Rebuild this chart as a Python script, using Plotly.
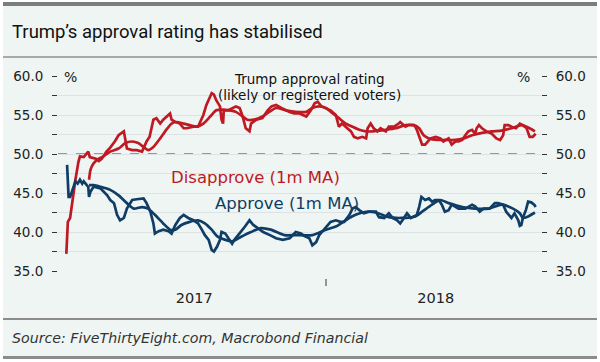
import plotly.graph_objects as go

# ---------------- data ----------------
disapprove_dates = [
    "2017-01-23", "2017-01-25", "2017-01-28", "2017-01-31", "2017-02-04", "2017-02-08", "2017-02-10",
    "2017-02-15", "2017-02-21", "2017-02-23", "2017-03-03", "2017-03-07", "2017-03-11", "2017-03-17",
    "2017-03-21", "2017-03-28", "2017-04-02", "2017-04-09", "2017-04-11", "2017-04-13", "2017-04-20",
    "2017-04-26", "2017-05-03", "2017-05-09", "2017-05-13", "2017-05-18", "2017-05-22", "2017-05-27",
    "2017-05-31", "2017-06-07", "2017-06-09", "2017-06-11", "2017-06-16", "2017-06-22", "2017-06-27",
    "2017-07-01", "2017-07-10", "2017-07-16", "2017-07-19", "2017-07-23", "2017-07-27", "2017-08-01",
    "2017-08-03", "2017-08-06", "2017-08-09", "2017-08-14", "2017-08-16", "2017-08-18", "2017-08-19",
    "2017-08-25", "2017-09-04", "2017-09-09", "2017-09-13", "2017-09-17", "2017-09-22", "2017-09-24",
    "2017-10-01", "2017-10-09", "2017-10-16", "2017-10-21", "2017-10-27", "2017-11-03", "2017-11-09",
    "2017-11-14", "2017-11-20", "2017-11-27", "2017-12-06", "2017-12-12", "2017-12-17", "2017-12-21",
    "2017-12-26", "2017-12-30", "2018-01-07", "2018-01-14", "2018-01-18", "2018-01-22", "2018-01-29",
    "2018-02-03", "2018-02-07", "2018-02-12", "2018-02-18", "2018-02-23", "2018-02-25", "2018-03-01",
    "2018-03-05", "2018-03-10", "2018-03-14", "2018-03-21", "2018-03-25", "2018-04-01", "2018-04-07",
    "2018-04-09", "2018-04-16", "2018-04-20", "2018-04-27", "2018-04-29", "2018-05-01", "2018-05-04",
    "2018-05-08", "2018-05-12", "2018-05-15", "2018-05-19", "2018-05-26", "2018-06-01", "2018-06-05",
    "2018-06-12", "2018-06-16", "2018-06-21", "2018-06-25", "2018-06-30", "2018-07-04", "2018-07-08",
    "2018-07-13", "2018-07-17", "2018-07-19", "2018-07-22", "2018-07-26", "2018-08-01", "2018-08-08",
    "2018-08-14", "2018-08-19", "2018-08-23", "2018-08-25", "2018-08-30", "2018-09-03", "2018-09-09",
    "2018-09-14", "2018-09-18", "2018-09-23", "2018-09-25", "2018-09-27", "2018-10-01", "2018-10-05",
]
disapprove = [
    37.2, 41.3, 41.8, 44.2, 46.7, 49.0, 49.7,
    49.6, 50.3, 49.6, 49.4, 49.1, 49.4, 50.3,
    50.7, 51.6, 52.4, 52.9, 52.0, 50.7, 50.5,
    50.5, 50.3, 51.6, 52.2, 54.4, 54.6, 53.9,
    54.4, 55.0, 55.2, 54.4, 54.1, 53.9, 53.3,
    53.3, 53.5, 53.5, 54.1, 55.0, 56.3, 57.3,
    57.8, 57.6, 56.9, 56.1, 54.4, 53.9, 55.6,
    55.6, 56.1, 55.9, 54.8, 53.3, 52.9, 53.9,
    54.4, 54.6, 55.6, 56.1, 56.3, 55.9, 55.6,
    55.4, 55.2, 55.2, 54.8, 55.6, 56.5, 56.7,
    56.1, 55.9, 55.6, 55.0, 53.5, 53.9, 53.3,
    52.9, 52.2, 52.0, 52.2, 52.0, 53.3, 53.9,
    53.3, 52.9, 53.3, 52.9, 53.5, 53.5, 53.9,
    54.1, 53.5, 53.7, 53.7, 53.5, 53.1, 52.2,
    51.2, 51.2, 51.6, 52.0, 52.2, 52.0, 51.6,
    52.0, 51.2, 51.6, 51.6, 51.8, 52.4, 52.9,
    53.1, 52.6, 53.3, 53.7, 53.3, 52.9, 52.6,
    52.0, 51.8, 52.4, 53.7, 53.7, 53.5, 53.3,
    53.9, 53.7, 53.3, 52.6, 52.2, 52.2, 52.6,
]

disapprove_ma_dates = [
    "2017-02-22", "2017-02-24", "2017-02-28", "2017-03-07", "2017-03-13", "2017-03-22", "2017-04-02",
    "2017-04-11", "2017-04-20", "2017-04-28", "2017-05-05", "2017-05-11", "2017-05-18", "2017-05-27",
    "2017-06-04", "2017-06-11", "2017-06-18", "2017-06-27", "2017-07-05", "2017-07-14", "2017-07-23",
    "2017-08-01", "2017-08-09", "2017-08-18", "2017-08-27", "2017-09-04", "2017-09-13", "2017-09-19",
    "2017-09-28", "2017-10-09", "2017-10-18", "2017-10-27", "2017-11-09", "2017-11-22", "2017-12-06",
    "2017-12-14", "2017-12-23", "2018-01-01", "2018-01-10", "2018-01-18", "2018-01-27", "2018-02-05",
    "2018-02-14", "2018-02-23", "2018-03-04", "2018-03-12", "2018-03-21", "2018-04-03", "2018-04-16",
    "2018-04-27", "2018-05-04", "2018-05-10", "2018-05-17", "2018-05-28", "2018-06-07", "2018-06-21",
    "2018-07-02", "2018-07-13", "2018-07-26", "2018-08-08", "2018-08-21", "2018-09-03", "2018-09-16",
    "2018-09-27", "2018-10-04",
]
disapprove_ma = [
    46.7, 48.0, 48.8, 49.4, 49.7, 50.3, 50.7,
    51.4, 51.6, 51.4, 50.9, 50.5, 50.9, 52.0,
    53.1, 53.9, 54.1, 53.9, 53.7, 53.5, 53.9,
    54.8, 55.6, 55.7, 55.6, 55.4, 54.8, 54.4,
    54.4, 54.8, 55.4, 55.9, 55.6, 55.4, 55.4,
    55.9, 56.1, 55.9, 55.2, 54.6, 53.9, 53.5,
    53.1, 52.9, 52.9, 53.0, 53.1, 53.3, 53.7,
    53.7, 53.3, 52.4, 52.0, 51.8, 51.8, 51.8,
    52.0, 52.4, 52.7, 52.9, 53.0, 53.3, 53.7,
    53.3, 52.9,
]

approve_dates = [
    "2017-01-24", "2017-01-25", "2017-01-26", "2017-01-28", "2017-01-31", "2017-02-02", "2017-02-04",
    "2017-02-07", "2017-02-10", "2017-02-13", "2017-02-15", "2017-02-19", "2017-02-21", "2017-02-22",
    "2017-02-24", "2017-02-28", "2017-03-09", "2017-03-18", "2017-03-22", "2017-03-27", "2017-03-31",
    "2017-04-04", "2017-04-09", "2017-04-13", "2017-04-20", "2017-04-26", "2017-05-05", "2017-05-09",
    "2017-05-14", "2017-05-18", "2017-05-20", "2017-05-25", "2017-05-31", "2017-06-07", "2017-06-11",
    "2017-06-16", "2017-06-22", "2017-06-27", "2017-07-03", "2017-07-10", "2017-07-16", "2017-07-21",
    "2017-07-25", "2017-07-30", "2017-08-03", "2017-08-06", "2017-08-10", "2017-08-14", "2017-08-16",
    "2017-08-21", "2017-08-30", "2017-09-02", "2017-09-11", "2017-09-16", "2017-09-22", "2017-09-27",
    "2017-10-03", "2017-10-10", "2017-10-19", "2017-10-27", "2017-11-05", "2017-11-14", "2017-11-22",
    "2017-11-29", "2017-12-03", "2017-12-10", "2017-12-14", "2017-12-19", "2017-12-23", "2018-01-01",
    "2018-01-07", "2018-01-14", "2018-01-20", "2018-01-25", "2018-02-01", "2018-02-05", "2018-02-09",
    "2018-02-14", "2018-02-20", "2018-02-27", "2018-03-08", "2018-03-12", "2018-03-19", "2018-03-25",
    "2018-03-30", "2018-04-05", "2018-04-09", "2018-04-14", "2018-04-18", "2018-04-23", "2018-04-27",
    "2018-05-01", "2018-05-04", "2018-05-07", "2018-05-12", "2018-05-17", "2018-05-21", "2018-05-25",
    "2018-05-30", "2018-06-03", "2018-06-07", "2018-06-12", "2018-06-16", "2018-06-25", "2018-07-04",
    "2018-07-13", "2018-07-17", "2018-07-23", "2018-07-28", "2018-08-05", "2018-08-12", "2018-08-16",
    "2018-08-23", "2018-08-27", "2018-09-03", "2018-09-07", "2018-09-12", "2018-09-14", "2018-09-16",
    "2018-09-18", "2018-09-22", "2018-09-25", "2018-09-29", "2018-10-03", "2018-10-05",
]
approve = [
    48.6, 46.2, 44.5, 44.5, 45.4, 46.2, 46.5,
    46.2, 46.7, 46.2, 46.5, 46.0, 45.8, 44.5,
    45.2, 45.8, 45.6, 44.7, 44.1, 43.7, 42.2,
    41.5, 41.8, 43.0, 44.1, 44.2, 44.3, 43.7,
    42.6, 41.1, 39.8, 40.1, 40.3, 40.1, 39.8,
    40.9, 41.8, 42.2, 41.8, 41.5, 41.1, 40.3,
    39.6, 39.0, 37.7, 37.5, 38.1, 39.0, 40.0,
    39.8, 38.5, 39.0, 40.0, 40.7, 41.5, 40.9,
    40.5, 40.0, 39.6, 39.2, 39.0, 39.2, 40.0,
    39.8, 39.5, 39.2, 38.3, 38.7, 39.6, 40.7,
    41.3, 41.5, 41.3, 41.3, 42.2, 43.0, 43.2,
    42.8, 42.4, 42.6, 42.6, 41.9, 41.8, 42.4,
    41.8, 41.5, 41.1, 41.8, 42.4, 41.8, 42.0,
    42.2, 43.2, 44.5, 44.1, 44.3, 43.9, 44.1,
    44.1, 43.5, 42.6, 42.8, 43.5, 43.0, 43.0,
    43.5, 43.3, 42.6, 43.0, 43.0, 43.7, 43.7,
    43.5, 42.6, 41.8, 42.4, 41.5, 40.8, 40.9,
    41.8, 42.8, 43.9, 43.8, 43.5, 43.2,
]

approve_ma_dates = [
    "2017-02-22", "2017-02-28", "2017-03-09", "2017-03-22", "2017-04-02", "2017-04-13", "2017-04-22",
    "2017-05-03", "2017-05-11", "2017-05-20", "2017-05-31", "2017-06-09", "2017-06-16", "2017-06-24",
    "2017-07-05", "2017-07-16", "2017-07-25", "2017-08-03", "2017-08-11", "2017-08-30", "2017-09-11",
    "2017-09-24", "2017-10-07", "2017-10-20", "2017-11-07", "2017-11-22", "2017-12-14", "2018-01-01",
    "2018-01-14", "2018-01-27", "2018-02-09", "2018-02-23", "2018-03-08", "2018-03-25", "2018-04-11",
    "2018-04-29", "2018-05-08", "2018-05-21", "2018-06-01", "2018-06-12", "2018-06-30", "2018-07-17",
    "2018-08-04", "2018-08-21", "2018-09-05", "2018-09-14", "2018-09-18", "2018-09-25", "2018-10-04",
]
approve_ma = [
    46.0, 46.0, 45.8, 45.4, 44.7, 43.7, 43.0,
    43.2, 43.0, 42.2, 41.1, 40.3, 40.3, 40.9,
    41.3, 41.5, 41.1, 40.3, 39.4, 38.8, 39.4,
    40.0, 40.5, 40.3, 39.6, 39.6, 39.6, 40.3,
    40.7, 41.5, 42.2, 42.6, 42.5, 41.9, 41.8,
    42.0, 42.6, 43.5, 44.1, 43.7, 43.2, 43.0,
    43.0, 43.5, 43.0, 42.4, 41.8, 42.0, 42.5,
]

y_ticks = [35, 40, 45, 50, 55, 60]
y_ticktext = ["35.0", "40.0", "45.0", "50.0", "55.0", "60.0"]
year_label_dates = ["2017-07-11", "2018-05-26"]
year_labels = ["2017", "2018"]
year_boundary = "2018-01-01"

# ---------------- styling ----------------
RED = "#bf1a24"
BLUE = "#0f3d66"
BG = "#eef5f3"
GRID = "#dde3e5"
FONT = "DejaVu Sans"
W, H = 600, 362
L, R, T, B = 58, 59, 76, 91
PW, PH = W - L - R, H - T - B


def px(xpix):
    return (xpix - L) / PW


def py(ypix):
    return (H - B - ypix) / PH


fig = go.Figure()
fig.add_trace(go.Scatter(x=disapprove_dates, y=disapprove, mode="lines",
                         line=dict(color=RED, width=2.7), yaxis="y2", hoverinfo="skip"))
fig.add_trace(go.Scatter(x=disapprove_ma_dates, y=disapprove_ma, mode="lines",
                         line=dict(color=RED, width=2.7, shape="spline", smoothing=0.6), hoverinfo="skip"))
fig.add_trace(go.Scatter(x=approve_dates, y=approve, mode="lines",
                         line=dict(color=BLUE, width=2.7), yaxis="y2", hoverinfo="skip"))
fig.add_trace(go.Scatter(x=approve_ma_dates, y=approve_ma, mode="lines",
                         line=dict(color=BLUE, width=2.7, shape="spline", smoothing=0.6), hoverinfo="skip"))

yax = dict(range=[35, 60], tickvals=y_ticks, ticktext=y_ticktext,
           ticks="outside", ticklen=5, tickwidth=1, tickcolor="#333",
           minor=dict(dtick=2.5, ticks="outside", ticklen=5, tickwidth=1, tickcolor="#333",
                      showgrid=True, gridcolor=GRID, gridwidth=1),
           showgrid=True, gridcolor=GRID, gridwidth=1, zeroline=False, showline=False,
           tickfont=dict(family=FONT, size=13.5, color="#222"), ticklabelstandoff=6,
           fixedrange=True)

fig.update_layout(
    width=W, height=H, margin=dict(l=L, r=R, t=T, b=B),
    paper_bgcolor=BG, plot_bgcolor=BG, showlegend=False,
    xaxis=dict(type="date", range=["2017-01-12", "2018-10-12"], tickvals=year_label_dates,
               ticktext=year_labels, ticks="", showgrid=False, zeroline=False, showline=False,
               tickfont=dict(family=FONT, size=14.5, color="#222"), ticklabelstandoff=16,
               fixedrange=True),
    yaxis=yax,
    yaxis2=dict(yax, overlaying="y", side="right", showgrid=False,
                minor=dict(dtick=2.5, ticks="outside", ticklen=5, tickwidth=1, tickcolor="#333",
                           showgrid=False)),
)

shapes = [
    dict(type="line", xref="paper", yref="y", x0=0, x1=1, y0=50, y1=50,
         line=dict(color="#7a7a7a", width=1.5, dash="dash"), layer="below"),
    dict(type="line", xref="x", yref="paper", x0=year_boundary, x1=year_boundary,
         y0=py(279), y1=py(286), line=dict(color="#333", width=1)),
    dict(type="rect", xref="paper", yref="paper", x0=px(0), x1=px(600), y0=py(0), y1=py(2),
         fillcolor="white", line=dict(width=0)),
    dict(type="rect", xref="paper", yref="paper", x0=px(0), x1=px(3), y0=py(0), y1=py(362),
         fillcolor="white", line=dict(width=0)),
    dict(type="rect", xref="paper", yref="paper", x0=px(597), x1=px(600), y0=py(0), y1=py(362),
         fillcolor="white", line=dict(width=0)),
    dict(type="rect", xref="paper", yref="paper", x0=px(3), x1=px(597), y0=py(2), y1=py(6),
         fillcolor="#7d7d7d", line=dict(width=0)),
    dict(type="rect", xref="paper", yref="paper", x0=px(3), x1=px(597), y0=py(56), y1=py(58),
         fillcolor="#a9a9a9", line=dict(width=0)),
    dict(type="rect", xref="paper", yref="paper", x0=px(3), x1=px(597), y0=py(318), y1=py(320),
         fillcolor="#8c8c8c", line=dict(width=0)),
    dict(type="rect", xref="paper", yref="paper", x0=px(3), x1=px(597), y0=py(356), y1=py(359),
         fillcolor="#8c8c8c", line=dict(width=0)),
    dict(type="rect", xref="paper", yref="paper", x0=px(0), x1=px(600), y0=py(359), y1=py(362),
         fillcolor="white", line=dict(width=0)),
]
fig.update_layout(shapes=shapes)

ann = [
    dict(text="Trump’s approval rating has stabilised", x=px(10), y=py(32), xanchor="left",
         yanchor="middle", font=dict(family="Roboto", size=18.5, color="#111")),
    dict(text="<i>Source: FiveThirtyEight.com, Macrobond Financial</i>", x=px(10), y=py(338),
         xanchor="left", yanchor="middle", font=dict(family=FONT, size=14.2, color="#333")),
    dict(text="%", x=px(62), y=py(77), xanchor="left", yanchor="middle",
         font=dict(family=FONT, size=14, color="#222")),
    dict(text="%", x=px(532), y=py(77), xanchor="right", yanchor="middle",
         font=dict(family=FONT, size=14, color="#222")),
    dict(text="Trump approval rating", x=px(309), y=py(79), xanchor="center", yanchor="middle",
         font=dict(family=FONT, size=13.5, color="#111")),
    dict(text="(likely or registered voters)", x=px(309), y=py(95), xanchor="center",
         yanchor="middle", font=dict(family=FONT, size=13.5, color="#111")),
    dict(text="Disapprove (1m MA)", x=px(255), y=py(177), xanchor="center", yanchor="middle",
         font=dict(family=FONT, size=16.5, color=RED)),
    dict(text="Approve (1m MA)", x=px(287), y=py(203), xanchor="center", yanchor="middle",
         font=dict(family=FONT, size=16.5, color=BLUE)),
]
for a in ann:
    a.update(xref="paper", yref="paper", showarrow=False)
fig.update_layout(annotations=ann)

fig.write_html("out.html", config={"displayModeBar": False, "staticPlot": True},
               post_script="document.body.style.margin='0px';")
